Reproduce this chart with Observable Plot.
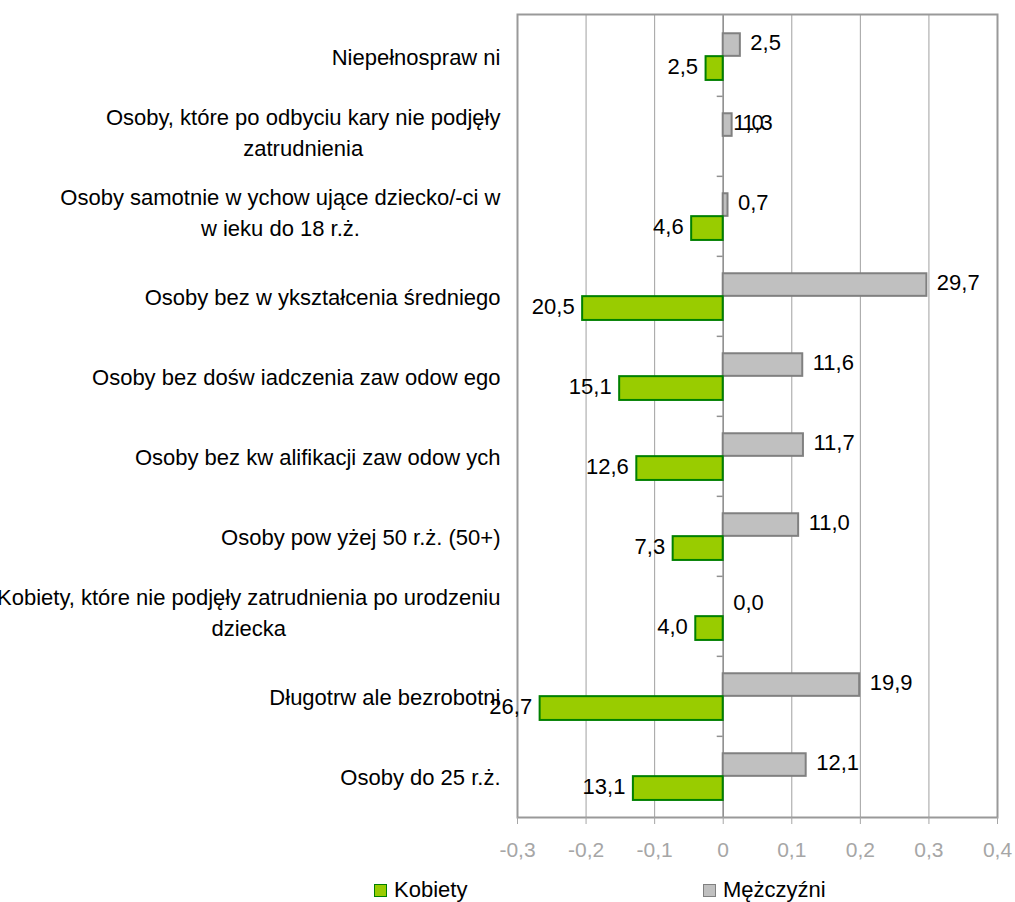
<!DOCTYPE html>
<html><head><meta charset="utf-8">
<script src="https://cdn.jsdelivr.net/npm/d3@7"></script>
<script src="https://cdn.jsdelivr.net/npm/@observablehq/plot@0.6"></script>
<style>
html,body{margin:0;padding:0;background:#fff;overflow:hidden;}
#legend{position:relative;height:32px;font-family:"Liberation Sans",Arial,sans-serif;font-size:22px;color:#000;}
.item{position:absolute;top:7px;height:26px;display:flex;align-items:center;}
.sw{width:11px;height:11px;border:1.5px solid;margin-right:7px;}
</style></head><body>
<div id="chart"></div>
<div id="legend"></div>
<script>
const categories = [
  "Niepełnospraw ni",
  "Osoby, które po odbyciu kary nie podjęły\nzatrudnienia",
  "Osoby samotnie w ychow ujące dziecko/-ci w\nw ieku do 18 r.ż.",
  "Osoby bez w ykształcenia średniego",
  "Osoby bez dośw iadczenia zaw odow ego",
  "Osoby bez kw alifikacji zaw odow ych",
  "Osoby pow yżej 50 r.ż. (50+)",
  "Kobiety, które nie podjęły zatrudnienia po urodzeniu\ndziecka",
  "Długotrw ale bezrobotni",
  "Osoby do 25 r.ż."
];
const kobiety   = [2.5, null, 4.6, 20.5, 15.1, 12.6, 7.3, 4.0, 26.7, 13.1];
const mezczyzni = [2.5, 1.3, 0.7, 29.7, 11.6, 11.7, 11.0, 0.0, 19.9, 12.1];
const extraLabels = [{category: categories[1], text: "1,0"}];
const xTicks = [-0.3, -0.2, -0.1, 0, 0.1, 0.2, 0.3, 0.4];
const seriesNames = ["Kobiety", "Mężczyźni"];
const seriesFill = ["#99cc00", "#c0c0c0"];
const seriesStroke = ["#008000", "#808080"];

const fmt = v => v.toFixed(1).replace(".", ",");
const tickFmt = d => d === 0 ? "0" : d.toFixed(1).replace(".", ",");

const W = 1015, H = 870, mT = 14, mB = 53, mL = 517, mR = 18;
const bw = (H - mT - mB) / categories.length;

const men = categories.map((c, i) => ({c, v: mezczyzni[i]}));
const women = categories.map((c, i) => ({c, v: kobiety[i]})).filter(d => d.v != null);

const plot = Plot.plot({
  width: W, height: H,
  marginTop: mT, marginBottom: mB, marginLeft: mL, marginRight: mR,
  style: {fontFamily: '"Liberation Sans", Arial, sans-serif', fontSize: "22px", background: "#fff", color: "#000"},
  x: {domain: [-0.3, 0.4], ticks: xTicks, tickFormat: tickFmt},
  y: {domain: categories, padding: 0, label: null},
  marks: [
    Plot.gridX(xTicks, {stroke: "#a0a0a0", strokeOpacity: 1, strokeWidth: 1}),
    Plot.ruleX([0], {stroke: "#909090", strokeWidth: 1.5}),
    Plot.barX(men, {x1: 0, x2: d => d.v / 100, y: "c", fill: seriesFill[1], stroke: seriesStroke[1], strokeWidth: 2,
      insetTop: 0.215 * bw, insetBottom: 0.5 * bw}),
    Plot.barX(women, {x1: 0, x2: d => -d.v / 100, y: "c", fill: seriesFill[0], stroke: seriesStroke[0], strokeWidth: 2,
      insetTop: 0.5 * bw, insetBottom: 0.2 * bw}),
    Plot.ruleY(categories.slice(1), {y: d => d, x1: 0, x2: 0, insetLeft: -6, dy: -bw / 2, stroke: "#909090", strokeWidth: 1.5}),
    Plot.frame({stroke: "#999999", strokeWidth: 2}),
    Plot.axisX({ticks: xTicks, tickFormat: tickFmt, tickSize: 7, tickPadding: 18, color: "#a6a6a6", fontSize: 21, label: null}),
    Plot.axisY({tickSize: 0, tickPadding: 17, label: null, lineHeight: 1.42, lineWidth: Infinity, fill: "#000"}),
    Plot.text(men, {x: d => d.v / 100, y: "c", text: d => fmt(d.v), textAnchor: "start", dx: 10, dy: -0.165 * bw, fill: "#000"}),
    Plot.text(women, {x: d => -d.v / 100, y: "c", text: d => fmt(d.v), textAnchor: "end", dx: -8, dy: 0.125 * bw, fill: "#000"}),
    Plot.text(extraLabels, {x: 0, y: "category", text: "text", textAnchor: "start", dx: 10, dy: -0.165 * bw, fill: "#000"})
  ]
});
document.getElementById("chart").appendChild(plot);

// center the lines of multi-line category labels on each other, keeping the block right-aligned
plot.querySelectorAll('g[aria-label="y-axis tick label"] text').forEach(t => {
  const spans = t.querySelectorAll("tspan");
  if (spans.length > 1) {
    const w = Math.max(...Array.from(spans, s => s.getComputedTextLength()));
    t.setAttribute("text-anchor", "middle");
    spans.forEach(s => s.setAttribute("x", -w / 2));
    t.setAttribute("transform", (t.getAttribute("transform") || "") + " translate(0,-6)");
  } else {
    t.setAttribute("transform", (t.getAttribute("transform") || "") + " translate(0,-2)");
  }
});

const legend = document.getElementById("legend");
const legendLeft = [374, 703];
seriesNames.forEach((name, i) => {
  const it = document.createElement("div");
  it.className = "item";
  it.style.left = legendLeft[i] + "px";
  const sw = document.createElement("span");
  sw.className = "sw";
  sw.style.background = seriesFill[i];
  sw.style.borderColor = seriesStroke[i];
  it.appendChild(sw);
  it.appendChild(document.createTextNode(name));
  legend.appendChild(it);
});
</script>
</body></html>
